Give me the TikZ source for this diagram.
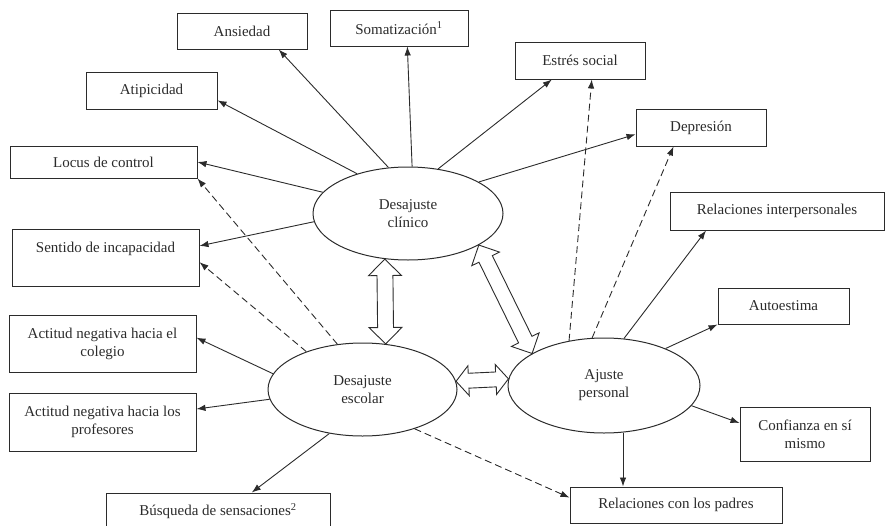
\documentclass[tikz,border=0pt]{standalone}
\usepackage{fontspec}
\setmainfont{Liberation Serif}
\usetikzlibrary{shapes.geometric,shapes.arrows,arrows.meta,calc}
\definecolor{ink}{HTML}{2B2B2B}
\begin{document}
\begin{tikzpicture}[x=1pt,y=-1pt,
  every node/.style={text=ink, font=\fontsize{15}{18}\selectfont},
  box/.style={draw=ink, line width=1pt, rectangle, inner sep=0pt, align=center},
  factor/.style={draw=ink, line width=1pt, ellipse, inner sep=0pt, align=center},
  link/.style={draw=ink, line width=0.9pt, -{Latex[length=9pt,width=6.5pt]}},
  dlink/.style={link, dash pattern=on 7pt off 4pt},
  dbl/.style={draw=ink, line width=0.9pt, shape=double arrow, inner xsep=0pt,
    double arrow tip angle=#1},
  dbl/.default=90]
\useasboundingbox (0,0) rectangle (886,525);
\clip (0,0) rectangle (886,525);

% latent factors
\node[factor, minimum width=190pt, minimum height=93pt] (cli) at (408,213.5) {Desajuste\\clínico};
\node[factor, minimum width=189pt, minimum height=93pt] (esc) at (362.5,389.5) {Desajuste\\escolar};
\node[factor, minimum width=192pt, minimum height=95pt] (per) at (604,385.5) {Ajuste\\personal};

% indicators
\node[box, minimum width=130pt, minimum height=36pt] (ans) at (242,31) {Ansiedad};
\node[box, minimum width=138pt, minimum height=36pt] (som) at (399,28) {Somatización\textsuperscript{1}};
\node[box, minimum width=131pt, minimum height=37pt] (ati) at (151.5,90.5) {Atipicidad};
\node[box, minimum width=187pt, minimum height=32pt] (loc) at (103.5,162) {Locus de control};
\node[box, minimum width=187pt, minimum height=57pt, text height=10pt, text depth=21pt] (sen) at (105.5,257.5) {Sentido de incapacidad};
\node[box, minimum width=187pt, minimum height=57pt] (col) at (102.5,343.5) {Actitud negativa hacia el\\colegio};
\node[box, minimum width=187pt, minimum height=58pt] (pro) at (102.5,422) {Actitud negativa hacia los\\profesores};
\node[box, minimum width=224pt, minimum height=36pt] (bus) at (218,511) {Búsqueda de sensaciones\textsuperscript{2}};
\node[box, minimum width=130pt, minimum height=37pt] (est) at (580,60.5) {Estrés social};
\node[box, minimum width=130pt, minimum height=37pt] (dep) at (701,127.5) {Depresión};
\node[box, minimum width=214pt, minimum height=38pt] (rin) at (777,211) {Relaciones interpersonales};
\node[box, minimum width=131pt, minimum height=36pt] (aut) at (783.5,306) {Autoestima};
\node[box, minimum width=130pt, minimum height=54pt] (con) at (805,434) {Confianza en sí\\mismo};
\node[box, minimum width=212pt, minimum height=36pt] (pad) at (676,505) {Relaciones con los padres};

% loadings of the clinical factor
\draw[link] (cli.113.7) -- ($(ans.south west)!0.78!(ans.south east)$);
\draw[link] (cli.85) -- ($(som.south west)!0.56!(som.south east)$);
\draw[link] (cli.142.2) -- ($(ati.north east)!0.76!(ati.south east)$);
\draw[link] (cli.166.6) -- (loc.east);
\draw[link] (cli.185.1) -- ($(sen.north east)!0.3!(sen.south east)$);
\draw[link] (cli.56.3) -- ($(est.south west)!0.285!(est.south east)$);
\draw[link] (cli.24.5) -- ($(dep.north west)!0.68!(dep.south west)$);

% loadings of the school factor
\draw[dlink] (esc.119.8) -- (loc.south east);
\draw[dlink] (esc.146.4) -- ($(sen.north east)!0.58!(sen.south east)$);
\draw[link] (esc.170.9) -- ($(col.north east)!0.4!(col.south east)$);
\draw[link] (esc.186.9) -- ($(pro.north east)!0.28!(pro.south east)$);
\draw[link] (esc.233.2) -- ($(bus.north west)!0.65!(bus.north east)$);
\draw[dlink] (esc.323.4) -- ($(pad.north west)!0.3!(pad.south west)$);

% loadings of the personal factor
\draw[dlink] (per.128.4) -- ($(est.south west)!0.59!(est.south east)$);
\draw[dlink] (per.104.2) -- ($(dep.south west)!0.29!(dep.south east)$);
\draw[link] (per.67.3) -- ($(rin.south west)!0.17!(rin.south east)$);
\draw[link] (per.31.6) -- (aut.south west);
\draw[link] (per.347.5) -- ($(con.north west)!0.3!(con.south west)$);
\draw[link] (per.292.8) -- (per.292.8 |- pad.north);

% correlations between factors
\path let \p1=(cli.243), \p2=(esc.63.5), \n1={veclen(\x2-\x1,\y2-\y1)} in
  (\p1) -- (\p2) node[dbl, midway, sloped, minimum height=\n1, inner ysep=7.5pt, double arrow head extend=8.5pt] (r1) {};
\path let \p1=(esc.5.9), \p2=(per.176.7), \n1={veclen(\x2-\x1,\y2-\y1)} in
  (\p1) -- (\p2) node[dbl=100, midway, sloped, minimum height=\n1, inner ysep=7pt, double arrow head extend=7.5pt] (r2) {};
\path let \p1=(cli.336.7), \p2=(per.156.8), \n1={veclen(\x2-\x1,\y2-\y1)} in
  (\p1) -- (\p2) node[dbl, midway, sloped, minimum height=\n1, inner ysep=7pt, double arrow head extend=8pt] (r3) {};
\end{tikzpicture}
\end{document}
